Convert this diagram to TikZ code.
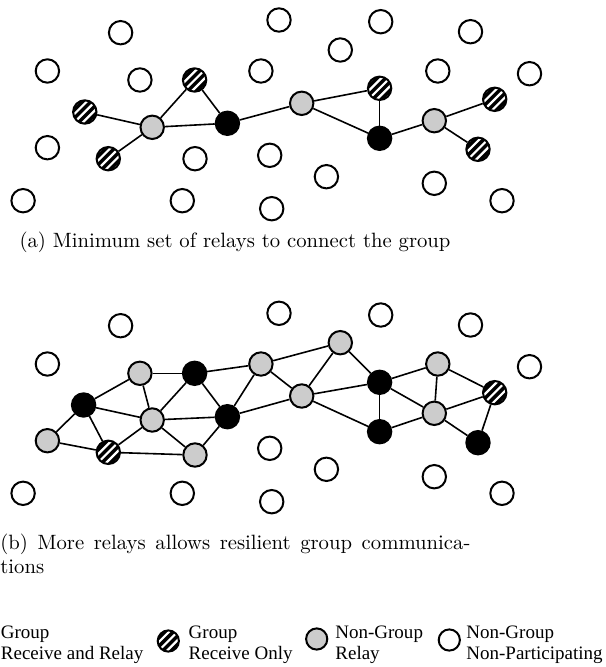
\documentclass[tikz,border=0pt]{standalone}
\usepackage{fontspec}
\newfontfamily\legendfont{Liberation Serif}
\begin{document}
\begin{tikzpicture}[x=0.5pt,y=-0.5pt,
  nd/.style={circle,draw=black,line width=1pt,minimum size=11.7pt,inner sep=0pt},
  wn/.style={nd,fill=white},
  gn/.style={nd,fill=gray!40},
  bn/.style={nd,fill=black},
  hn/.style={nd,fill=black,path picture={\foreach \k in {-4,...,4}{\draw[white,line width=1.1pt] ([xshift=\k*4.2pt]path picture bounding box.center) +(-10pt,-10pt) -- +(10pt,10pt);}}},
  ed/.style={line width=0.8pt},
  lgs/.style={minimum size=10.6pt},
  captext/.style={font=\fontsize{10.35}{12.4}\selectfont},
  legtext/.style={anchor=base west,inner sep=0pt,font=\legendfont\fontsize{9.5}{10.35}\selectfont}
]
\useasboundingbox (0,0) rectangle (605,667);

% ---------- panel (a) ----------
\foreach \n/\s/\x/\y in {
  1/wn/120.6/32.7, 2/wn/279/20, 3/wn/380.7/21.7, 4/wn/470.5/31.7, 5/wn/340.3/50,
  6/wn/47.4/71, 7/wn/139.9/80, 8/wn/260.9/71, 9/wn/437.8/71, 10/wn/529.5/73.7,
  11/wn/47.4/147.7, 12/wn/195/158.7, 13/wn/269.7/155.3, 14/wn/326.4/176.7, 15/wn/434.3/183.3,
  16/wn/23.1/200.7, 17/wn/182.3/200.7, 18/wn/271.7/208.7, 19/wn/502/200.7,
  20/hn/194.6/80, 21/hn/84.8/112, 22/hn/108.3/158.7, 23/hn/379.6/88.3, 24/hn/494.7/99.3, 25/hn/478/149.3,
  26/gn/152.2/127.3, 27/gn/301.7/103.3, 28/gn/434.3/120.7,
  29/bn/227.4/123.3, 30/bn/379.6/138.3}
  \node[\s] (a\n) at (\x,\y) {};

\foreach \u/\v in {21/26, 26/20, 20/29, 26/29, 26/22, 29/27, 27/23, 27/30, 23/30, 30/28, 28/24, 28/25}
  \draw[ed] (a\u) -- (a\v);

\node[captext,anchor=base] (capa) at (235,248) {(a) Minimum set of relays to connect the group};

% ---------- panel (b) ----------
\foreach \n/\s/\x/\y in {
  1/wn/120.6/325.7, 2/wn/279/313.3, 3/wn/380.7/315, 4/wn/470.5/325, 5/gn/340.3/342.7,
  6/wn/47.4/364, 7/gn/139.9/373.3, 8/gn/260.9/364, 9/gn/437.8/364, 10/wn/529.5/366.7,
  11/gn/47.4/440.7, 12/gn/195/455, 13/wn/269.7/448.3, 14/wn/326.4/469.3, 15/wn/434.3/476.7,
  16/wn/23.1/493.3, 17/wn/182.3/493.3, 18/wn/271.7/501.7, 19/wn/502/493.3,
  20/bn/194.6/373.3, 21/bn/83.6/405, 22/hn/108.3/452.3, 23/bn/379.6/382.3, 24/hn/494.7/392.7, 25/bn/478/442.7,
  26/gn/152.2/420, 27/gn/301.7/396, 28/gn/434.3/413.3,
  29/bn/227.4/416.7, 30/bn/379.6/431.7}
  \node[\s] (b\n) at (\x,\y) {};

\foreach \u/\v in {11/21, 11/22, 21/7, 21/26, 21/22, 7/20, 7/26, 20/26, 20/29, 20/8,
  26/29, 26/12, 26/22, 22/12, 12/29, 29/8, 29/27, 8/5, 8/27, 5/27, 5/23, 27/23, 27/30,
  23/30, 23/9, 23/28, 30/28, 9/28, 9/24, 28/24, 28/25, 24/25}
  \draw[ed] (b\u) -- (b\v);

\node[captext,anchor=base west,inner sep=0pt] (capb) at (0,549)
  {\parbox[t]{235pt}{(b) More relays allows resilient group communica-\linebreak tions}};

% ---------- legend ----------
\node[legtext] (l1) at (0.5,638.3) {\begin{tabular}[t]{@{}l@{}}Group\\Receive and Relay\end{tabular}};
\node[hn,lgs] (s2) at (168.3,641) {};
\node[legtext] (l2) at (188.3,638.3) {\begin{tabular}[t]{@{}l@{}}Group\\Receive Only\end{tabular}};
\node[gn,lgs] (s3) at (316.7,639) {};
\node[legtext] (l3) at (335,638.3) {\begin{tabular}[t]{@{}l@{}}Non-Group\\Relay\end{tabular}};
\node[wn,lgs] (s4) at (449.3,640) {};
\node[legtext] (l4) at (466,638.3) {\begin{tabular}[t]{@{}l@{}}Non-Group\\Non-Participating\end{tabular}};
\end{tikzpicture}
\end{document}
